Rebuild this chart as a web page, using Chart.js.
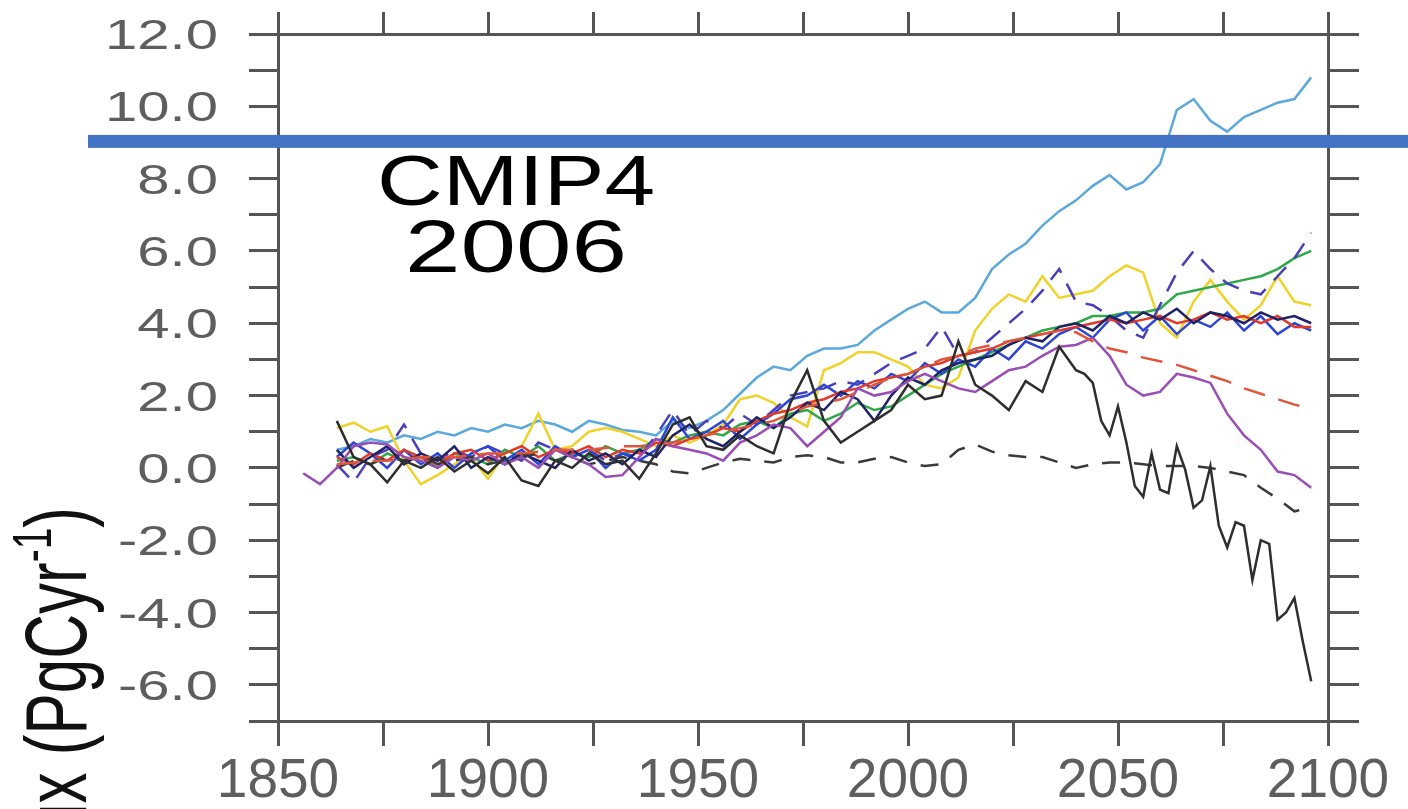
<!DOCTYPE html>
<html lang="en">
<head>
<meta charset="UTF-8">
<title>Land carbon flux</title>
<script src="https://cdn.jsdelivr.net/npm/chart.js"></script>
<style>
  html, body { margin: 0; padding: 0; background: #fff; overflow: hidden; }
  canvas { display: block; }
</style>
</head>
<body>
<canvas id="fluxChart" width="1408" height="809"></canvas>
<script>
// sample years (every 4 years)
const years = [
  1856, 1860, 1864, 1868, 1872, 1876, 1880, 1884, 1888, 1892,
  1896, 1900, 1904, 1908, 1912, 1916, 1920, 1924, 1928, 1932,
  1936, 1940, 1944, 1948, 1952, 1956, 1960, 1964, 1968, 1972,
  1976, 1980, 1984, 1988, 1992, 1996, 2000, 2004, 2008, 2012,
  2016, 2020, 2024, 2028, 2032, 2036, 2040, 2044, 2048, 2052,
  2056, 2060, 2064, 2068, 2072, 2076, 2080, 2084, 2088, 2092, 2096
];
// finer steps for the late part of the collapsing run
const lateYears = [
  2042, 2044, 2046, 2048, 2050, 2052, 2054, 2056, 2058, 2060,
  2062, 2064, 2066, 2068, 2070, 2072, 2074, 2076, 2078, 2080,
  2082, 2084, 2086, 2088, 2090, 2092, 2094, 2096
];

// land flux per model run, PgC/yr
const lightBlue = [
  null, null, 0.5, 0.6, 0.8, 0.7, 0.9, 0.8, 1.0, 0.9,
  1.1, 1.0, 1.2, 1.1, 1.3, 1.2, 1.0, 1.3, 1.2, 1.05,
  1.0, 0.9, 1.3, 1.1, 1.3, 1.6, 2.05, 2.5, 2.8, 2.7,
  3.1, 3.3, 3.3, 3.4, 3.8, 4.1, 4.4, 4.6, 4.3, 4.3,
  4.7, 5.5, 5.9, 6.2, 6.7, 7.1, 7.4, 7.8, 8.1, 7.7,
  7.9, 8.4, 9.9, 10.2, 9.6, 9.3, 9.7, 9.9, 10.1, 10.2, 10.8
];
const yellow = [
  null, null, 1.1, 1.25, 1.0, 1.15, 0.2, -0.45, -0.2, 0.1,
  0.3, -0.3, 0.4, 0.6, 1.5, 0.5, 0.6, 1.0, 1.1, 1.0,
  0.8, 0.6, 0.9, 0.7, 0.9, 1.2, 1.9, 2.0, 1.8, 1.4,
  1.15, 2.7, 2.9, 3.2, 3.2, 3.0, 2.8, 2.3, 2.2, 2.5,
  3.8, 4.4, 4.8, 4.6, 5.3, 4.7, 4.8, 4.9, 5.3, 5.6,
  5.4, 4.0, 3.6, 4.6, 5.2, 4.6, 4.1, 4.5, 5.3, 4.6, 4.5
];
const green = [
  null, null, 0.2, 0.3, 0.1, 0.4, 0.2, 0.3, 0.0, 0.4,
  0.3, 0.1, 0.5, 0.3, 0.6, 0.2, 0.4, 0.3, 0.6, 0.4,
  0.5, 0.8, 0.7, 0.9, 1.0, 0.9, 1.2, 1.3, 1.1, 1.5,
  1.6, 1.3, 1.5, 1.8, 1.6, 1.7, 2.0, 2.3, 2.6, 2.8,
  3.0, 3.2, 3.4, 3.6, 3.8, 3.9, 4.0, 4.2, 4.2, 4.3,
  4.3, 4.4, 4.8, 4.9, 5.0, 5.1, 5.2, 5.3, 5.5, 5.8, 6.0
];
const blueDashed = [
  null, null, 0.1, -0.4, 0.3, 0.5, 1.2, 0.4, 0.2, 0.5,
  0.3, 0.6, 0.4, 0.2, 0.7, 0.5, 0.3, 0.5, 0.2, 0.4,
  0.3, 0.9, 1.6, 0.9, 1.3, 1.1, 1.5, 1.2, 1.6, 2.0,
  2.1, 2.2, 2.4, 2.3, 2.6, 2.9, 3.1, 3.3, 3.9, 3.1,
  3.2, 3.6, 4.0, 4.4, 4.9, 5.5, 4.6, 4.5, 4.2, 3.8,
  3.6, 4.5, 5.4, 6.0, 5.5, 5.1, 4.9, 4.8, 5.3, 5.8, 6.5
];
const redDashed = [
  null, null, 0.1, 0.15, 0.2, 0.2, 0.25, 0.3, 0.3, 0.3,
  0.35, 0.4, 0.4, 0.4, 0.45, 0.5, 0.5, 0.5, 0.55, 0.6,
  0.6, 0.65, 0.7, 0.8, 0.9, 1.0, 1.1, 1.2, 1.3, 1.5,
  1.7, 1.8, 1.9, 2.1, 2.3, 2.5, 2.6, 2.8, 3.0, 3.1,
  3.3, 3.4, 3.5, 3.6, 3.7, 3.8, 3.75, 3.5, 3.3, 3.2,
  3.05, 2.95, 2.85, 2.7, 2.55, 2.4, 2.2, 2.05, 1.9, 1.75, 1.65
];
const purple = [
  -0.15, -0.45, 0.0, 0.6, 0.7, 0.65, 0.3, 0.2, 0.0, 0.3,
  0.2, 0.4, 0.1, 0.3, 0.0, 0.5, 0.3, 0.1, -0.25, -0.2,
  0.3, 0.8, 0.6, 0.5, 0.4, 0.2, 0.7, 0.9, 1.2, 1.1,
  0.6, 1.0, 1.4, 2.2, 2.0, 2.1, 2.4, 2.6, 2.4, 2.2,
  2.1, 2.4, 2.7, 2.8, 3.1, 3.35, 3.4, 3.6, 3.1, 2.3,
  2.0, 2.1, 2.6, 2.5, 2.35, 1.5, 0.9, 0.5, -0.1, -0.2, -0.55
];
// up to 2040 on the 4-year grid, then 2-year steps
const blackSolid = [
  null, null, 1.3, 0.3, 0.1, -0.4, 0.2, 0.0, 0.3, -0.1,
  0.2, -0.15, 0.3, -0.35, -0.5, 0.2, 0.0, 0.4, 0.1, 0.2,
  -0.3, 0.4, 1.2, 1.4, 0.6, 0.5, 0.9, 0.6, 0.4, 1.8,
  2.7, 1.3, 0.7, 1.0, 1.3, 1.6, 2.3, 1.9, 2.0, 3.5,
  2.3, 2.0, 1.6, 2.4, 2.1, 3.35, 2.7
];
const blackSolidLate = [
  2.6, 2.35, 1.3, 0.9, 1.7, 0.7, -0.5, -0.8, 0.4, -0.6,
  -0.7, 0.6, -0.05, -1.1, -0.9, 0.05, -1.6, -2.2, -1.5, -1.6,
  -3.1, -2.0, -2.1, -4.2, -4.0, -3.6, -4.8, -5.9
];
const blackDashed = [
  null, null, 0.0, 0.2, 0.1, 0.3, 0.2, 0.4, 0.1, 0.2,
  0.3, 0.1, 0.2, 0.3, 0.4, 0.2, 0.3, 0.1, 0.2, 0.3,
  0.2, 0.1, -0.1, -0.15, 0.0, 0.15, 0.25, 0.2, 0.15, 0.3,
  0.35, 0.3, 0.15, 0.15, 0.25, 0.3, 0.15, 0.05, 0.1, 0.5,
  0.65, 0.45, 0.35, 0.3, 0.3, 0.15, 0.0, 0.1, 0.15, 0.15,
  0.1, 0.05, 0.05, 0.05, 0.0, -0.1, -0.2, -0.55, -0.85, -1.2, -1.1
];
const redSolid = [
  null, null, 0.3, 0.1, 0.4, 0.2, 0.5, 0.3, 0.1, 0.4,
  0.5, 0.2, 0.4, 0.6, 0.3, 0.5, 0.4, 0.6, 0.3, 0.5,
  0.4, 0.7, 0.6, 0.8, 0.9, 1.1, 1.0, 1.3, 1.5, 1.6,
  1.8, 1.9, 2.1, 2.2, 2.4, 2.5, 2.6, 2.8, 2.9, 3.1,
  3.2, 3.3, 3.5, 3.6, 3.7, 3.8, 3.9, 4.0, 4.1, 4.0,
  4.1, 4.2, 4.0, 4.1, 4.3, 4.1, 4.2, 4.0, 4.2, 3.9, 3.9
];
const blueSolid = [
  null, null, 0.3, 0.7, 0.4, 0.0, 0.5, 0.1, 0.4, 0.0,
  0.4, 0.6, 0.2, 0.5, 0.1, 0.6, 0.3, 0.5, 0.0, 0.4,
  0.2, 0.5, 1.4, 0.8, 1.0, 1.3, 0.8, 1.2, 1.5, 1.9,
  2.0, 2.3, 2.0, 2.4, 2.2, 2.6, 2.4, 2.9, 2.6, 3.0,
  2.8, 3.3, 3.0, 3.5, 3.3, 3.7, 3.9, 3.6, 4.1, 4.3,
  3.8, 4.2, 3.7, 4.1, 3.9, 4.3, 3.8, 4.2, 3.7, 4.0, 3.8
];
const navy = [
  null, null, 0.5, 0.0, 0.3, 0.6, 0.1, 0.4, 0.2, 0.6,
  0.0, 0.3, 0.1, 0.4, 0.2, 0.0, 0.5, 0.2, 0.4, 0.1,
  0.5, 0.3, 0.9, 1.2, 0.8, 0.6, 1.0, 1.4, 1.1, 1.4,
  1.8, 1.6, 2.1, 1.9, 1.3, 2.0, 2.5, 2.3, 2.7, 2.9,
  3.0, 3.1, 3.4, 3.6, 3.5, 3.9, 4.0, 3.8, 4.2, 4.0,
  4.3, 4.1, 4.4, 4.0, 4.3, 4.2, 4.0, 4.3, 4.1, 4.2, 4.0
];

// axis labels
const yTickLabels = [-6, -4, -2, 0, 2, 4, 6, 8, 10, 12];
const xTickLabels = [1850, 1900, 1950, 2000, 2050, 2100];
const axisTitle = 'Land flux (PgCyr';
const axisTitleSup = '-1';
const noteLines = ['CMIP4', '2006'];
const noteBarValue = 9.03;

const axisColor = '#555555';
const textFont = '"Liberation Sans", Arial, Helvetica, sans-serif';

function toPoints(xs, values) {
  return values.map((v, i) => ({ x: xs[i], y: v }));
}

function series(label, points, color, dash) {
  return {
    label: label,
    data: points,
    xAxisID: 'x',
    yAxisID: 'y',
    borderColor: color,
    borderWidth: 2.5,
    borderDash: dash || [],
    pointRadius: 0,
    tension: 0,
    fill: false
  };
}

// one side of the box frame: ticks only, labels drawn by the overlay
function frameAxis(position, min, max, step, tickLength, size) {
  return {
    type: 'linear',
    position: position,
    min: min,
    max: max,
    ticks: {
      stepSize: step,
      autoSkip: false,
      padding: 0,
      font: { size: 1 },
      callback: () => ''
    },
    grid: {
      drawOnChartArea: false,
      drawTicks: true,
      tickLength: tickLength,
      color: axisColor,
      lineWidth: 3
    },
    border: { display: true, color: axisColor, width: 3 },
    afterFit(scale) {
      if (scale.isHorizontal()) {
        scale.height = size;
      } else {
        scale.width = size;
      }
    }
  };
}

// text stretched sideways
function wideText(ctx, text, x, y, sx, align) {
  ctx.save();
  ctx.translate(x, y);
  ctx.scale(sx, 1);
  ctx.textAlign = align;
  ctx.fillText(text, 0, 0);
  ctx.restore();
}

const overlayPlugin = {
  id: 'overlay',
  afterDraw(chart) {
    const ctx = chart.ctx;
    const xs = chart.scales.x;
    const ys = chart.scales.y;
    ctx.save();
    ctx.textBaseline = 'alphabetic';

    // tick labels
    ctx.fillStyle = '#5e5e5e';
    ctx.font = '43px ' + textFont;
    yTickLabels.forEach(v => {
      wideText(ctx, v.toFixed(1), 218, ys.getPixelForValue(v) + 15, 1.35, 'right');
    });
    ctx.font = '55px ' + textFont;
    xTickLabels.forEach(v => {
      wideText(ctx, String(v), xs.getPixelForValue(v), 797, 1.0, 'center');
    });

    // rotated y title with superscript
    ctx.fillStyle = '#111111';
    ctx.save();
    ctx.translate(86, 507);
    ctx.scale(1.4, 1);
    ctx.rotate(-Math.PI / 2);
    ctx.textAlign = 'left';
    ctx.font = '62px ' + textFont;
    const wMain = ctx.measureText(axisTitle).width;
    const wEnd = ctx.measureText(')').width;
    ctx.font = '39px ' + textFont;
    const wSup = ctx.measureText(axisTitleSup).width;
    const x0 = -(wMain + wSup + wEnd);
    ctx.font = '62px ' + textFont;
    ctx.fillText(axisTitle, x0, 0);
    ctx.fillText(')', x0 + wMain + wSup, 0);
    ctx.font = '39px ' + textFont;
    ctx.fillText(axisTitleSup, x0 + wMain, -25);
    ctx.restore();

    // highlight bar and note
    const barY = ys.getPixelForValue(noteBarValue);
    ctx.fillStyle = '#4472c4';
    ctx.fillRect(88, barY - 6.5, chart.width - 88, 13);
    ctx.fillStyle = '#000000';
    ctx.font = '70px ' + textFont;
    wideText(ctx, noteLines[0], 516, 205, 1.3, 'center');
    ctx.font = '75px ' + textFont;
    wideText(ctx, noteLines[1], 516, 272, 1.33, 'center');

    ctx.restore();
  }
};

const blackPoints = toPoints(years, blackSolid).concat(toPoints(lateYears, blackSolidLate));

const ctx = document.getElementById('fluxChart').getContext('2d');
new Chart(ctx, {
  type: 'line',
  data: {
    datasets: [
      series('black', blackPoints, '#2e2e2e'),
      series('red dashed', toPoints(years, redDashed), '#e0563c', [22, 14]),
      series('purple', toPoints(years, purple), '#9a4db4'),
      series('black dashed', toPoints(years, blackDashed), '#3a3a3a', [18, 14]),
      series('navy', toPoints(years, navy), '#1f2266'),
      series('red', toPoints(years, redSolid), '#e23a2a'),
      series('blue', toPoints(years, blueSolid), '#2c46d6'),
      series('blue dashed', toPoints(years, blueDashed), '#4a3fb8', [18, 12]),
      series('green', toPoints(years, green), '#2fa84a'),
      series('yellow', toPoints(years, yellow), '#f0d22a'),
      series('light blue', toPoints(years, lightBlue), '#5aa8dc')
    ]
  },
  options: {
    responsive: false,
    devicePixelRatio: 1,
    animation: false,
    layout: { padding: 0 },
    plugins: {
      legend: { display: false },
      tooltip: { enabled: false }
    },
    scales: {
      x: frameAxis('bottom', 1850, 2100, 25, 25, 88),
      xTop: frameAxis('top', 1850, 2100, 25, 22, 34),
      y: frameAxis('left', -7, 12, 1, 29, 278),
      yRight: frameAxis('right', -7, 12, 1, 31, 80)
    }
  },
  plugins: [overlayPlugin]
});
</script>
</body>
</html>
